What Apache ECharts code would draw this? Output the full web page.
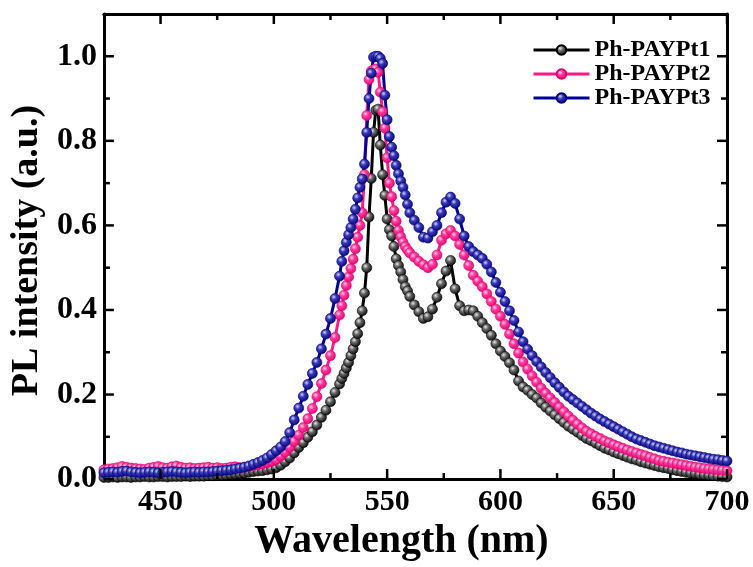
<!DOCTYPE html>
<html>
<head>
<meta charset="utf-8">
<script src="https://cdn.jsdelivr.net/npm/echarts@6/dist/echarts.min.js"></script>
<style>
  html, body { margin: 0; padding: 0; background: #fff; }
  #chart { width: 753px; height: 567px; }
</style>
</head>
<body>
<div id="chart"></div>
<script>
// wavelength grid (nm), 1 nm steps around the main peak
var wavelength = [
  425,427,429,431,433,435,437,439,441,443,445,447,449,451,453,455,457,459,461,463,
  465,467,469,471,473,475,477,479,481,483,485,487,489,491,493,495,497,499,501,503,
  505,507,509,511,513,515,517,519,521,523,525,527,529,
  530,531,532,533,534,535,536,537,538,539,540,541,542,543,544,545,546,547,548,549,
  550,551,552,553,554,555,556,557,558,559,560,
  562,564,566,568,570,572,574,576,578,580,582,584,586,588,590,592,594,596,598,600,
  602,604,606,608,610,612,614,616,618,620,622,624,626,628,630,632,634,636,638,640,
  642,644,646,648,650,652,654,656,658,660,662,664,666,668,670,672,674,676,678,680,
  682,684,686,688,690,692,694,696,698,700
];

var pt1 = [
  0.004,0.004,0.005,0.004,0.005,0.005,0.004,0.005,0.005,0.006,0.005,0.005,0.006,0.006,0.005,0.006,0.006,0.006,0.007,0.006,
  0.007,0.007,0.007,0.008,0.008,0.009,0.009,0.010,0.011,0.012,0.013,0.014,0.016,0.018,0.019,0.020,0.022,0.024,0.027,0.033,
  0.041,0.050,0.062,0.075,0.086,0.099,0.112,0.128,0.146,0.163,0.183,0.205,0.225,
  0.238,0.250,0.263,0.276,0.292,0.308,0.325,0.344,0.370,0.398,0.440,0.500,0.620,0.711,0.820,0.872,0.875,0.790,0.720,0.671,
  0.615,0.590,0.575,0.550,0.521,0.505,0.490,0.472,0.455,0.445,0.432,
  0.412,0.396,0.380,0.384,0.402,0.430,0.462,0.492,0.517,0.450,0.410,0.398,0.400,0.398,0.385,0.370,0.356,0.340,0.320,0.303,
  0.290,0.275,0.258,0.232,0.218,0.210,0.200,0.192,0.180,0.170,0.161,0.152,0.143,0.134,0.125,0.118,0.111,0.103,0.096,0.091,
  0.085,0.079,0.073,0.069,0.064,0.060,0.056,0.052,0.048,0.045,0.041,0.038,0.035,0.032,0.029,0.027,0.025,0.022,0.020,0.018,
  0.016,0.014,0.013,0.011,0.010,0.009,0.008,0.007,0.006,0.005
];

var pt2 = [
  0.022,0.024,0.025,0.027,0.030,0.028,0.026,0.025,0.024,0.023,0.026,0.028,0.030,0.027,0.026,0.029,0.031,0.028,0.026,0.027,
  0.025,0.026,0.027,0.028,0.026,0.027,0.025,0.026,0.028,0.029,0.027,0.028,0.030,0.032,0.034,0.036,0.039,0.042,0.046,0.054,
  0.064,0.075,0.089,0.104,0.122,0.143,0.167,0.195,0.226,0.258,0.292,0.335,0.388,
  0.410,0.435,0.458,0.478,0.498,0.520,0.545,0.572,0.600,0.630,0.720,0.860,0.945,0.965,0.968,0.970,0.962,0.915,0.869,0.830,
  0.760,0.700,0.668,0.635,0.610,0.588,0.573,0.560,0.550,0.542,0.535,
  0.525,0.515,0.507,0.500,0.508,0.530,0.565,0.580,0.588,0.575,0.555,0.530,0.505,0.482,0.468,0.455,0.438,0.420,0.402,0.385,
  0.366,0.343,0.320,0.298,0.277,0.260,0.244,0.229,0.215,0.203,0.192,0.181,0.170,0.159,0.149,0.139,0.130,0.121,0.113,0.107,
  0.101,0.096,0.090,0.086,0.081,0.077,0.073,0.069,0.065,0.062,0.058,0.055,0.051,0.048,0.044,0.042,0.040,0.038,0.036,0.034,
  0.032,0.030,0.028,0.027,0.025,0.024,0.023,0.022,0.021,0.020
];

var pt3 = [
  0.015,0.016,0.017,0.016,0.018,0.019,0.017,0.016,0.015,0.016,0.017,0.016,0.015,0.016,0.017,0.018,0.017,0.016,0.015,0.016,
  0.017,0.016,0.017,0.017,0.018,0.019,0.020,0.021,0.022,0.024,0.026,0.028,0.031,0.035,0.039,0.044,0.050,0.058,0.067,0.076,
  0.089,0.110,0.140,0.168,0.196,0.224,0.250,0.276,0.308,0.343,0.380,0.427,0.480,
  0.515,0.540,0.560,0.578,0.595,0.615,0.638,0.665,0.690,0.710,0.745,0.820,0.900,0.960,0.998,1.000,1.000,0.995,0.983,0.908,
  0.850,0.810,0.785,0.765,0.742,0.722,0.705,0.690,0.672,0.650,0.630,
  0.612,0.595,0.572,0.570,0.585,0.600,0.630,0.655,0.667,0.652,0.615,0.575,0.550,0.538,0.530,0.522,0.508,0.490,0.465,0.442,
  0.420,0.398,0.375,0.348,0.325,0.307,0.292,0.278,0.265,0.252,0.240,0.228,0.217,0.206,0.196,0.188,0.180,0.172,0.164,0.156,
  0.149,0.142,0.136,0.130,0.124,0.118,0.112,0.106,0.100,0.095,0.091,0.087,0.083,0.079,0.076,0.073,0.070,0.067,0.064,0.062,
  0.059,0.057,0.055,0.053,0.051,0.049,0.047,0.046,0.044,0.043
];

var seriesNames = ['Ph-PAYPt1', 'Ph-PAYPt2', 'Ph-PAYPt3'];
var xMajor = [450, 500, 550, 600, 650, 700];
var xMinor = [475, 525, 575, 625, 675];
var yMajor = [0, 0.2, 0.4, 0.6, 0.8, 1.0];
var yMinor = [0.1, 0.3, 0.5, 0.7, 0.9];
var xRange = [425, 700];
var yRange = [0, 1.1];

var font = "'Liberation Serif', 'Times New Roman', serif";
var black = '#000';

function pairs(vals) {
  return wavelength.map(function (w, i) { return [w, vals[i]]; });
}

// glossy bead look
function bead(light, mid, dark) {
  return {
    type: 'radial', x: 0.38, y: 0.35, r: 0.7,
    colorStops: [
      { offset: 0, color: light },
      { offset: 0.35, color: mid },
      { offset: 1, color: dark }
    ]
  };
}

function makeSeries(name, vals, lineColor, light, mid, dark) {
  return {
    name: name,
    type: 'line',
    data: pairs(vals),
    showAllSymbol: true,
    symbol: 'circle',
    symbolSize: 10,
    lineStyle: { color: lineColor, width: 3 },
    itemStyle: { color: bead(light, mid, dark), borderColor: dark, borderWidth: 0.6 },
    emphasis: { disabled: true }
  };
}

// inward tick marks on the frame, placed through the axes' own scales
function tickSeries(values, side, len) {
  var dir = { bottom: [0, -1], top: [0, 1], left: [1, 0], right: [-1, 0] }[side];
  return {
    type: 'custom',
    silent: true,
    z: 10,
    clip: false,
    data: values.map(function (v) {
      if (side === 'bottom') return [v, yRange[0]];
      if (side === 'top') return [v, yRange[1]];
      if (side === 'left') return [xRange[0], v];
      return [xRange[1], v];
    }),
    renderItem: function (params, api) {
      var p = api.coord([api.value(0), api.value(1)]);
      return {
        type: 'line',
        shape: { x1: p[0], y1: p[1], x2: p[0] + dir[0] * len, y2: p[1] + dir[1] * len },
        style: { stroke: black, lineWidth: 2.5 }
      };
    }
  };
}

var myChart = echarts.init(document.getElementById('chart'));

var option = {
  animation: false,
  grid: { left: 97, right: 26, top: 14, bottom: 86 },
  legend: {
    orient: 'vertical',
    left: 527,
    top: 33,
    itemWidth: 56,
    itemHeight: 12,
    itemGap: 0,
    lineStyle: { width: 3 },
    textStyle: { color: black, fontFamily: font, fontWeight: 'bold', fontSize: 24, lineHeight: 22 },
    data: seriesNames
  },
  xAxis: [{
    type: 'value', min: xRange[0], max: xRange[1],
    axisLine: { show: true, onZero: false, lineStyle: { color: black, width: 3 } },
    axisTick: { show: false },
    axisLabel: {
      customValues: xMajor, margin: 8, color: black,
      fontFamily: font, fontWeight: 'bold', fontSize: 30
    },
    splitLine: { show: false },
    name: 'Wavelength (nm)',
    nameLocation: 'middle',
    nameGap: 38,
    nameTextStyle: { color: black, fontFamily: font, fontWeight: 'bold', fontSize: 40, padding: [0, 28, 0, 0] }
  }, {
    type: 'value', position: 'top', min: xRange[0], max: xRange[1],
    axisLine: { show: true, onZero: false, lineStyle: { color: black, width: 3 } },
    axisTick: { show: false },
    axisLabel: { show: false },
    splitLine: { show: false }
  }],
  yAxis: [{
    type: 'value', min: yRange[0], max: yRange[1],
    axisLine: { show: true, onZero: false, lineStyle: { color: black, width: 3 } },
    axisTick: { show: false },
    axisLabel: {
      customValues: yMajor, margin: 7, color: black,
      fontFamily: font, fontWeight: 'bold', fontSize: 32,
      formatter: function (v) { return v.toFixed(1); }
    },
    splitLine: { show: false },
    name: 'PL intensity (a.u.)',
    nameLocation: 'middle',
    nameGap: 47,
    nameTextStyle: { color: black, fontFamily: font, fontWeight: 'bold', fontSize: 38, padding: [0, 8, 0, 0] }
  }, {
    type: 'value', position: 'right', min: yRange[0], max: yRange[1],
    axisLine: { show: true, onZero: false, lineStyle: { color: black, width: 3 } },
    axisTick: { show: false },
    axisLabel: { show: false },
    splitLine: { show: false }
  }],
  series: [
    makeSeries(seriesNames[0], pt1, '#000000', '#e8e8e8', '#6a6a6a', '#000000'),
    makeSeries(seriesNames[1], pt2, '#ff1a8c', '#ffd6ea', '#ff3d9e', '#e0006e'),
    makeSeries(seriesNames[2], pt3, '#000099', '#d4d4ff', '#3a3ab8', '#00007a'),
    tickSeries(xMajor, 'bottom', 10),
    tickSeries(xMinor, 'bottom', 6),
    tickSeries(xMajor, 'top', 10),
    tickSeries(xMinor, 'top', 6),
    tickSeries(yMajor, 'left', 10),
    tickSeries(yMinor, 'left', 6),
    tickSeries(yMajor, 'right', 10),
    tickSeries(yMinor, 'right', 6)
  ]
};

myChart.setOption(option);
</script>
</body>
</html>
